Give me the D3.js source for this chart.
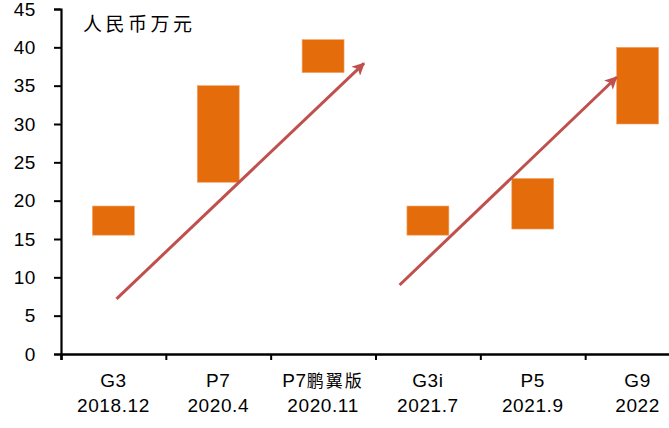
<!DOCTYPE html>
<html><head><meta charset="utf-8">
<script src="https://cdn.jsdelivr.net/npm/d3@7"></script>
<style>body{margin:0;background:#fff}svg{display:block}</style>
</head><body>
<svg id="c" width="669" height="428"></svg>
<script>
const models = ["G3", "P7", "P7鹏翼版", "G3i", "P5", "G9"];
const dates = ["2018.12", "2020.4", "2020.11", "2021.7", "2021.9", "2022"];
const priceLow = [15.5, 22.4, 36.7, 15.5, 16.3, 30.0];
const priceHigh = [19.3, 35.0, 41.0, 19.3, 22.9, 40.0];
const yTicks = [0, 5, 10, 15, 20, 25, 30, 35, 40, 45];
// arrows: [startCategoryPos, startValue, endCategoryPos, endValue] (category pos in band units)
const arrows = [[0.53, 7.2, 2.89, 37.9], [3.23, 9.0, 5.30, 36.1]];
const unitLabel = "人民币万元";

(function () {
const svg = d3.select("#c");
const mLeft = 61, mRight = 690, mTop = 9, mBottom = 354;
const x = d3.scaleBand().domain(d3.range(models.length)).range([mLeft, mRight]).paddingInner(0).paddingOuter(0);
const xPos = d3.scaleLinear().domain([0, models.length]).range([mLeft, mRight]);
const y = d3.scaleLinear().domain([0, 45]).range([mBottom, mTop]);
const font = "'Liberation Sans', Arial, sans-serif";
const fs = 19, ls = 0.6;

// bars
const bw = x.bandwidth() * 0.4;
svg.selectAll("rect.bar").data(models).join("rect")
  .attr("x", (d, i) => x(i) + x.bandwidth() / 2 - bw / 2)
  .attr("width", bw)
  .attr("y", (d, i) => y(priceHigh[i]))
  .attr("height", (d, i) => y(priceLow[i]) - y(priceHigh[i]))
  .attr("fill", "#E46C0A").attr("stroke", "#F4A36A").attr("stroke-width", 0.6);

// arrows
const defs = svg.append("defs");
defs.append("marker").attr("id", "ah").attr("viewBox", "0 0 10 10")
  .attr("refX", 9).attr("refY", 5).attr("markerWidth", 4.4).attr("markerHeight", 4.2)
  .attr("markerUnits", "strokeWidth").attr("orient", "auto")
  .append("path").attr("d", "M0,0 L10,5 L0,10 L2.5,5 Z").attr("fill", "#C0504D");
svg.selectAll("line.arrow").data(arrows).join("line")
  .attr("x1", d => xPos(d[0])).attr("y1", d => y(d[1]))
  .attr("x2", d => xPos(d[2])).attr("y2", d => y(d[3]))
  .attr("stroke", "#C0504D").attr("stroke-width", 3)
  .attr("marker-end", "url(#ah)");

// y axis
const ya = svg.append("g").attr("transform", `translate(${mLeft},0)`)
  .call(d3.axisLeft(y).tickValues(yTicks).tickSize(7).tickPadding(18));
ya.select(".domain").attr("stroke", "#000").attr("stroke-width", 2.2);
ya.selectAll(".tick line").attr("stroke", "#000").attr("stroke-width", 2);
ya.selectAll(".tick text").attr("font-family", font).attr("font-size", fs)
  .attr("letter-spacing", ls).attr("fill", "#000");

// x axis
const xa = svg.append("g").attr("transform", `translate(0,${mBottom})`)
  .call(d3.axisBottom(xPos).tickValues(d3.range(models.length + 1)).tickSize(6).tickFormat(""));
xa.select(".domain").attr("stroke", "#000").attr("stroke-width", 2.5);
xa.selectAll(".tick line").attr("stroke", "#000").attr("stroke-width", 2);

const lab = svg.append("g");
lab.selectAll("text.m").data(models).join("text")
  .attr("x", (d, i) => x(i) + x.bandwidth() / 2).attr("y", 387)
  .attr("text-anchor", "middle").attr("font-size", fs).attr("letter-spacing", ls).attr("fill", "#000")
  .attr("font-family", font)
  .each(function(d) {
    const t = d3.select(this);
    const m = d.match(/^([A-Za-z0-9]+)(.*)$/);
    t.append("tspan").text(m[1]);
    if (m[2]) t.append("tspan").attr("font-family", "'Noto Sans CJK SC'")
      .attr("font-size", 17).attr("letter-spacing", 2).text(m[2]);
  });
lab.selectAll("text.d").data(dates).join("text")
  .attr("x", (d, i) => x(i) + x.bandwidth() / 2).attr("y", 412)
  .attr("text-anchor", "middle").attr("font-size", fs).attr("letter-spacing", ls).attr("fill", "#000")
  .attr("font-family", font).text(d => d);

svg.append("text").attr("x", 83).attr("y", 31)
  .attr("font-family", "'Noto Sans CJK SC'").attr("font-size", 19).attr("letter-spacing", 3.5)
  .attr("fill", "#000").text(unitLabel);
})();
</script>
</body></html>
